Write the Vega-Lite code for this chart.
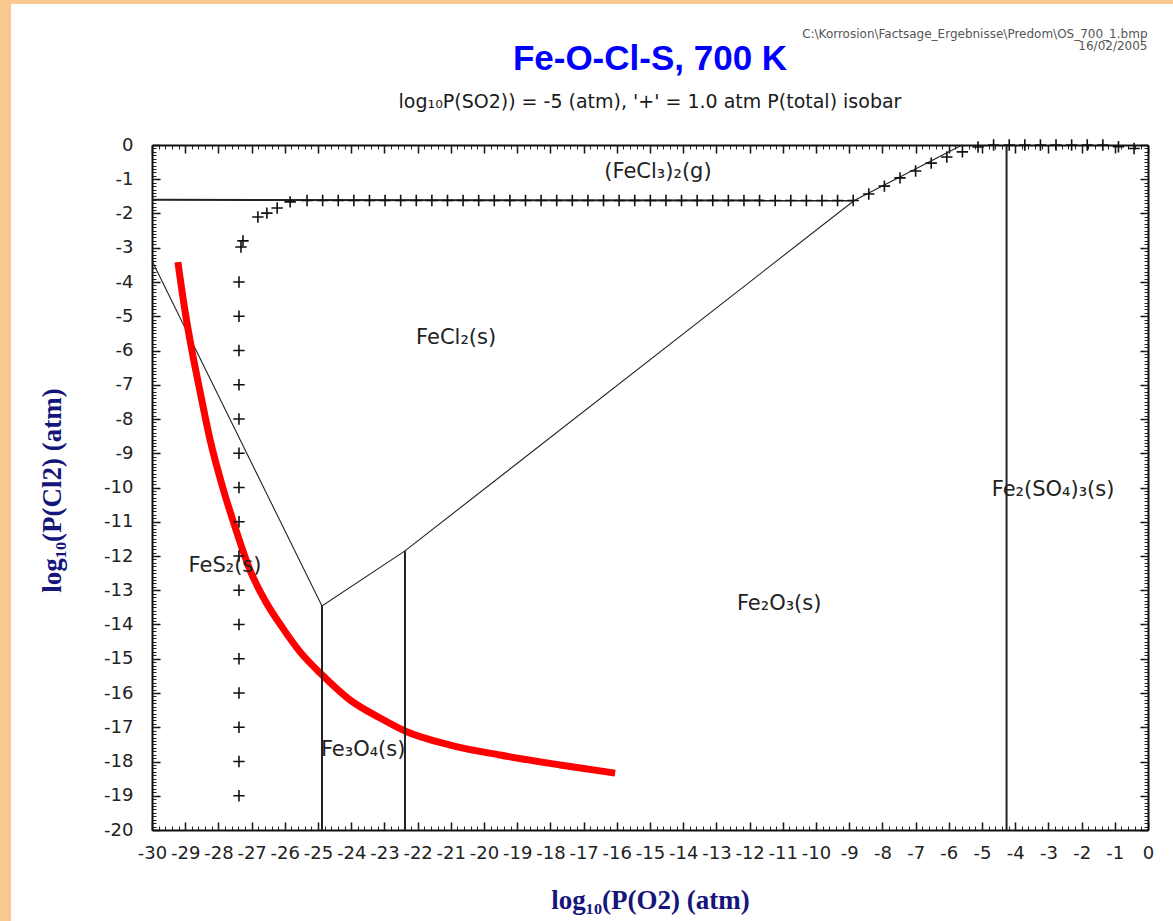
{
  "$schema": "https://vega.github.io/schema/vega-lite/v6.json",
  "width": 996,
  "height": 685,
  "autosize": {"type": "none"},
  "padding": {"left": 152, "top": 145, "right": 25, "bottom": 91},
  "background": "#F8C88E",
  "config": {
    "view": {"fill": "white", "stroke": "white", "strokeWidth": 282, "strokeJoin": "miter"},
    "font": "Liberation Sans"
  },
  "title": {
    "text": "Fe-O-Cl-S, 700 K",
    "subtitle": "log₁₀P(SO2)) = -5 (atm), '+' = 1.0 atm P(total) isobar",
    "anchor": "middle",
    "frame": "group",
    "font": "Liberation Sans",
    "fontSize": 35,
    "fontWeight": "bold",
    "color": "#0000ff",
    "subtitleFont": "DejaVu Sans",
    "subtitleFontSize": 19,
    "subtitleColor": "#1a1a1a",
    "subtitlePadding": 16,
    "offset": 32,
    "dy": 117
  },
  "datasets": {
    "diagonals": [
      {"seg": "a", "i": 0, "x": -30, "y": -3.38},
      {"seg": "a", "i": 1, "x": -24.88, "y": -13.46},
      {"seg": "a", "i": 2, "x": -22.38, "y": -11.85},
      {"seg": "a", "i": 3, "x": -8.85, "y": -1.62},
      {"seg": "a", "i": 4, "x": -5.6, "y": 0}
    ],
    "rules": [
      {"seg": "h", "i": 0, "x": -30, "y": -1.6},
      {"seg": "h", "i": 1, "x": -8.85, "y": -1.62},
      {"seg": "v1", "i": 0, "x": -24.88, "y": -13.46},
      {"seg": "v1", "i": 1, "x": -24.88, "y": -20},
      {"seg": "v2", "i": 0, "x": -22.38, "y": -11.85},
      {"seg": "v2", "i": 1, "x": -22.38, "y": -20},
      {"seg": "v3", "i": 0, "x": -4.26, "y": 0},
      {"seg": "v3", "i": 1, "x": -4.26, "y": -20}
    ],
    "corrosion": [
      {"x": -29.22, "y": -3.42},
      {"x": -29.01, "y": -4.82},
      {"x": -28.8, "y": -5.99},
      {"x": -28.55, "y": -7.21},
      {"x": -28.25, "y": -8.61},
      {"x": -27.89, "y": -9.93},
      {"x": -27.5, "y": -11.15},
      {"x": -27.05, "y": -12.41},
      {"x": -26.6, "y": -13.29},
      {"x": -26.05, "y": -14.12},
      {"x": -25.54, "y": -14.8},
      {"x": -24.88, "y": -15.47},
      {"x": -24.04, "y": -16.2},
      {"x": -23.13, "y": -16.73},
      {"x": -22.38, "y": -17.11},
      {"x": -21.02, "y": -17.52},
      {"x": -19.52, "y": -17.81},
      {"x": -17.71, "y": -18.1},
      {"x": -16.05, "y": -18.34}
    ],
    "isobar": [
      {"x": -27.38, "y": -4}, {"x": -27.38, "y": -5}, {"x": -27.38, "y": -6}, {"x": -27.38, "y": -7},
      {"x": -27.38, "y": -8}, {"x": -27.38, "y": -9}, {"x": -27.38, "y": -10}, {"x": -27.38, "y": -11},
      {"x": -27.38, "y": -12}, {"x": -27.38, "y": -13}, {"x": -27.38, "y": -14}, {"x": -27.38, "y": -15},
      {"x": -27.38, "y": -16}, {"x": -27.38, "y": -17}, {"x": -27.38, "y": -18}, {"x": -27.38, "y": -19},
      {"x": -27.32, "y": -2.98}, {"x": -27.26, "y": -2.8}, {"x": -26.81, "y": -2.1},
      {"x": -26.54, "y": -1.99}, {"x": -26.23, "y": -1.84}, {"x": -25.84, "y": -1.66},
      {"x": -25.33, "y": -1.62}, {"x": -24.86, "y": -1.62}, {"x": -24.39, "y": -1.62}, {"x": -23.92, "y": -1.62},
      {"x": -23.45, "y": -1.62}, {"x": -22.98, "y": -1.62}, {"x": -22.51, "y": -1.62}, {"x": -22.04, "y": -1.62},
      {"x": -21.57, "y": -1.62}, {"x": -21.1, "y": -1.62}, {"x": -20.63, "y": -1.62}, {"x": -20.16, "y": -1.62},
      {"x": -19.69, "y": -1.62}, {"x": -19.22, "y": -1.62}, {"x": -18.75, "y": -1.62}, {"x": -18.28, "y": -1.62},
      {"x": -17.81, "y": -1.62}, {"x": -17.34, "y": -1.62}, {"x": -16.87, "y": -1.62}, {"x": -16.4, "y": -1.62},
      {"x": -15.93, "y": -1.62}, {"x": -15.46, "y": -1.62}, {"x": -14.99, "y": -1.62}, {"x": -14.52, "y": -1.62},
      {"x": -14.05, "y": -1.62}, {"x": -13.58, "y": -1.62}, {"x": -13.11, "y": -1.62}, {"x": -12.64, "y": -1.62},
      {"x": -12.17, "y": -1.62}, {"x": -11.7, "y": -1.62}, {"x": -11.23, "y": -1.62}, {"x": -10.76, "y": -1.62},
      {"x": -10.29, "y": -1.62}, {"x": -9.82, "y": -1.62}, {"x": -9.35, "y": -1.62}, {"x": -8.88, "y": -1.62},
      {"x": -8.41, "y": -1.43}, {"x": -7.94, "y": -1.2}, {"x": -7.47, "y": -0.96}, {"x": -7.0, "y": -0.76},
      {"x": -6.53, "y": -0.53}, {"x": -6.06, "y": -0.35}, {"x": -5.59, "y": -0.2}, {"x": -5.12, "y": -0.06},
      {"x": -4.65, "y": 0}, {"x": -4.18, "y": 0}, {"x": -3.71, "y": 0}, {"x": -3.24, "y": 0},
      {"x": -2.77, "y": 0}, {"x": -2.3, "y": 0}, {"x": -1.83, "y": 0}, {"x": -1.36, "y": 0},
      {"x": -0.89, "y": -0.05}, {"x": -0.42, "y": -0.1}
    ],
    "phases": [
      {"label": "(FeCl₃)₂(g)", "x": -14.76, "y": -0.79},
      {"label": "FeCl₂(s)", "x": -20.84, "y": -5.64},
      {"label": "FeS₂(s)", "x": -27.8, "y": -12.29},
      {"label": "Fe₃O₄(s)", "x": -23.64, "y": -17.66},
      {"label": "Fe₂O₃(s)", "x": -11.11, "y": -13.4},
      {"label": "Fe₂(SO₄)₃(s)", "x": -2.86, "y": -10.07}
    ]
  },
  "layer": [
    {
      "data": {"name": "diagonals"},
      "mark": {"type": "line", "color": "#222222", "strokeWidth": 1.1},
      "encoding": {
        "x": {
          "field": "x", "type": "quantitative",
          "scale": {"domain": [-30, 0], "nice": false, "zero": false},
          "axis": {
            "orient": "bottom",
            "values": [-30, -29, -28, -27, -26, -25, -24, -23, -22, -21, -20, -19, -18, -17, -16, -15, -14, -13, -12, -11, -10, -9, -8, -7, -6, -5, -4, -3, -2, -1, 0],
            "ticks": false,
            "domain": true, "domainColor": "#111111", "domainWidth": 2,
            "grid": true, "gridColor": "#111111", "gridWidth": 1.5, "gridDash": [8, 669, 8, 2000],
            "labelFont": "DejaVu Sans", "labelFontSize": 18, "labelColor": "#222222",
            "labelPadding": 14, "labelOverlap": false, "labelFlush": false, "labelBound": false,
            "labelExpr": "'' + datum.value",
            "title": "log₁₀(P(O2) (atm)",
            "titleFont": "Liberation Serif", "titleFontSize": 27, "titleFontWeight": "bold", "titleColor": "#15157a",
            "titleX": 498, "titleY": 70, "titleAlign": "center", "titleBaseline": "middle"
          }
        },
        "y": {
          "field": "y", "type": "quantitative",
          "scale": {"domain": [-20, 0], "nice": false, "zero": false},
          "axis": {
            "orient": "left",
            "values": [-20, -19, -18, -17, -16, -15, -14, -13, -12, -11, -10, -9, -8, -7, -6, -5, -4, -3, -2, -1, 0],
            "ticks": false,
            "domain": true, "domainColor": "#111111", "domainWidth": 2,
            "grid": true, "gridColor": "#111111", "gridWidth": 1.5, "gridDash": [8, 980, 8, 2000],
            "labelFont": "DejaVu Sans", "labelFontSize": 18, "labelColor": "#222222",
            "labelPadding": 19, "labelOverlap": false, "labelFlush": false, "labelBound": false,
            "labelExpr": "'' + datum.value",
            "title": "log₁₀(P(Cl2) (atm)",
            "titleFont": "Liberation Serif", "titleFontSize": 27, "titleFontWeight": "bold", "titleColor": "#15157a",
            "titleX": -100, "titleY": 345, "titleAngle": -90, "titleAlign": "center", "titleBaseline": "middle"
          }
        },
        "detail": {"field": "seg"},
        "order": {"field": "i"}
      }
    },
    {
      "data": {"name": "corrosion"},
      "mark": {"type": "line", "color": "#ff0000", "strokeWidth": 7, "interpolate": "monotone", "strokeCap": "butt"},
      "encoding": {
        "x": {
          "field": "x", "type": "quantitative",
          "axis": {
            "orient": "top",
            "tickCount": 150,
            "ticks": false, "labels": false,
            "domain": true, "domainColor": "#111111", "domainWidth": 2,
            "grid": true, "gridColor": "#222222", "gridWidth": 1, "gridDash": [4, 677, 4, 2000],
            "title": ["C:\\Korrosion\\Factsage_Ergebnisse\\Predom\\OS_700_1.bmp", "16/02/2005"],
            "titleFont": "DejaVu Sans", "titleFontSize": 12, "titleFontWeight": "normal", "titleColor": "#555555",
            "titleAlign": "right", "titleAnchor": "end", "titleX": 995, "titleY": -108,
            "titleBaseline": "alphabetic", "titleLineHeight": 12, "titleAngle": 0
          }
        },
        "y": {
          "field": "y", "type": "quantitative",
          "axis": {
            "orient": "right",
            "tickCount": 200,
            "ticks": false, "labels": false,
            "domain": true, "domainColor": "#111111", "domainWidth": 2,
            "grid": true, "gridColor": "#222222", "gridWidth": 1, "gridDash": [4, 988, 4, 2000],
            "title": null
          }
        },
        "order": {"field": "x"}
      }
    },
    {
      "data": {"name": "rules"},
      "mark": {"type": "line", "color": "#222222", "strokeWidth": 2},
      "encoding": {
        "x": {"field": "x", "type": "quantitative", "axis": null},
        "y": {"field": "y", "type": "quantitative", "axis": null},
        "detail": {"field": "seg"},
        "order": {"field": "i"}
      }
    },
    {
      "data": {"name": "isobar"},
      "mark": {"type": "point", "shape": "M-1,0L1,0M0,-1L0,1", "size": 130, "filled": false, "stroke": "#111111", "strokeWidth": 1.6, "opacity": 1},
      "encoding": {
        "x": {"field": "x", "type": "quantitative", "axis": null},
        "y": {"field": "y", "type": "quantitative", "axis": null}
      }
    },
    {
      "data": {"name": "phases"},
      "mark": {"type": "text", "font": "DejaVu Sans", "fontSize": 21, "color": "#222222", "align": "center", "baseline": "middle"},
      "encoding": {
        "x": {"field": "x", "type": "quantitative", "axis": null},
        "y": {"field": "y", "type": "quantitative", "axis": null},
        "text": {"field": "label"}
      }
    }
  ],
  "resolve": {"axis": {"x": "independent", "y": "independent"}}
}
